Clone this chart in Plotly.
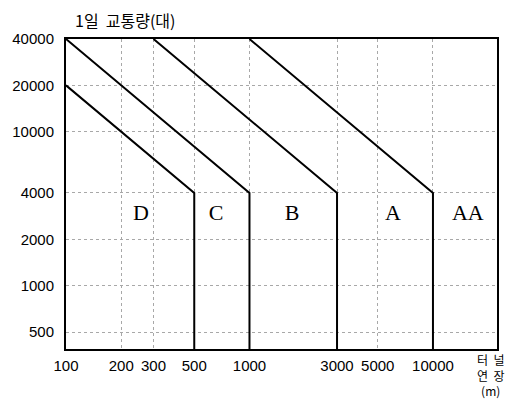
import math
import plotly.graph_objects as go

# Boundary lines of each tunnel class (log-log: traffic x length = const)
boundary_names = ["D", "C", "B", "A"]
start_length = [100, 100, 300, 1000]        # m
start_traffic = [20000, 40000, 40000, 40000]  # vehicles/day
kink_length = [500, 1000, 3000, 10000]
kink_traffic = [4000, 4000, 4000, 4000]
floor_traffic = 388   # axis bottom

# Zone labels
zone_labels = ["D", "C", "B", "A", "AA"]
zone_label_length = [256, 657, 1705, 6050, 15500]
zone_label_traffic = [2880, 2880, 2880, 2880, 2880]

# Ticks
x_ticks = [100, 200, 300, 500, 1000, 3000, 5000, 10000]
y_ticks = [500, 1000, 2000, 4000, 10000, 20000, 40000]
x_range = [2.0, 4.349]
y_range = [math.log10(floor_traffic), math.log10(40000)]

fig = go.Figure()

for i, name in enumerate(boundary_names):
    fig.add_trace(go.Scatter(
        x=[start_length[i], kink_length[i], kink_length[i]],
        y=[start_traffic[i], kink_traffic[i], floor_traffic],
        mode="lines",
        line=dict(color="black", width=2),
        name=name,
        showlegend=False,
        hoverinfo="skip",
    ))

fig.add_trace(go.Scatter(
    x=zone_label_length, y=zone_label_traffic, mode="text",
    text=zone_labels,
    textfont=dict(family="Liberation Serif", size=22, color="black"),
    showlegend=False, hoverinfo="skip",
))

grid = dict(showgrid=True, gridcolor="#a8a8a8", gridwidth=1, griddash="dot")

fig.update_xaxes(
    type="log", range=x_range,
    tickvals=x_ticks, ticktext=[str(v) for v in x_ticks],
    tickfont=dict(family="Liberation Sans", size=15, color="black"),
    showline=True, linecolor="black", linewidth=2, mirror=True,
    ticks="", ticklabelstandoff=2, zeroline=False, automargin=False,
    **grid,
)
fig.update_yaxes(
    type="log", range=y_range,
    tickvals=y_ticks, ticktext=[str(v) for v in y_ticks],
    tickfont=dict(family="Liberation Sans", size=15, color="black"),
    showline=True, linecolor="black", linewidth=2, mirror=True,
    ticks="", ticklabelstandoff=7, zeroline=False, automargin=False,
    **grid,
)

cjk = "Noto Sans CJK KR"
annotations = [
    dict(text="1일  교통량(대)", xref="paper", yref="paper", x=0.016, y=1.06,
         xanchor="left", yanchor="middle", showarrow=False,
         font=dict(family=cjk, size=16, color="black")),
    dict(text="터  널<br>연  장<br>(m)", xref="paper", yref="paper",
         x=0.984, y=(349 - 375) / 310,
         xanchor="center", yanchor="middle", align="center", showarrow=False,
         font=dict(family=cjk, size=12, color="black")),
]

# page body adds an 8px offset, so the figure is 8px smaller with 8px less left/top margin
fig.update_layout(
    width=507, height=398,
    margin=dict(l=58, r=18, t=31, b=57),
    paper_bgcolor="white", plot_bgcolor="white",
    annotations=annotations,
    showlegend=False,
)

fig.write_html("out.html")
